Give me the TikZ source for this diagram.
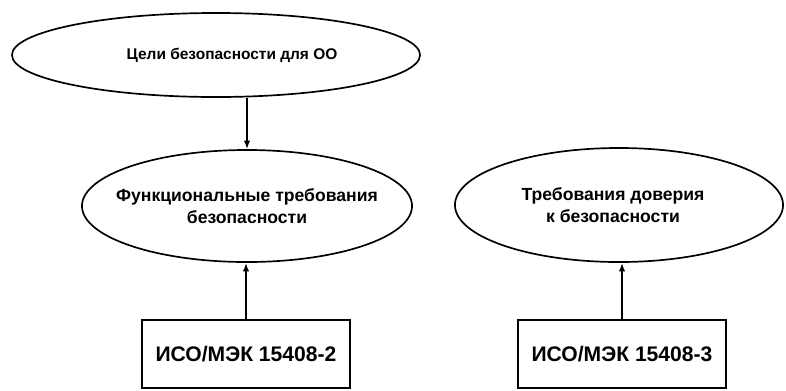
\documentclass[tikz,border=0pt]{standalone}
\usepackage{fontspec}
\setmainfont{Liberation Sans}
\usetikzlibrary{shapes.geometric, arrows.meta}

\begin{document}
\begin{tikzpicture}[x=0.025cm, y=-0.025cm,
        goal/.style={draw, ellipse, line width=1.2pt, inner sep=0pt},
        goaltext/.style={align=center, font=\bfseries\fontsize{12.5}{15.6}\selectfont},
        std/.style={draw, rectangle, line width=1.2pt, minimum width=5.2cm, minimum height=1.7cm,
            font=\bfseries\fontsize{15}{17}\selectfont},
        link/.style={line width=1.2pt, -{Latex[length=6pt,width=4.5pt]}}]
    \useasboundingbox (0,0) rectangle (786,390);
    \node[goal, minimum width=10.2cm, minimum height=2.1cm,
        label={[goaltext, font=\bfseries\fontsize{11}{15.6}\selectfont, xshift=0.4cm]center:Цели безопасности для ОО}] (obj) at (216,55) {};
    \node[goal, minimum width=8.25cm, minimum height=2.8cm,
        label={[goaltext]center:Функциональные требования\\безопасности}] (func) at (247,206) {};
    \node[goal, minimum width=8.2cm, minimum height=2.85cm,
        label={[goaltext, xshift=-0.15cm]center:Требования доверия\\к безопасности}] (assur) at (619,205) {};
    \node[std] (part2) at (246,354) {ИСО/МЭК 15408-2};
    \node[std] (part3) at (622,354) {ИСО/МЭК 15408-3};
    \draw[link] (obj.south -| func.north) -- (func.north);
    \draw[link] (part2.north) -- (part2.north |- func.south);
    \draw[link] (part3.north) -- (part3.north |- assur.south);
\end{tikzpicture}
\end{document}
